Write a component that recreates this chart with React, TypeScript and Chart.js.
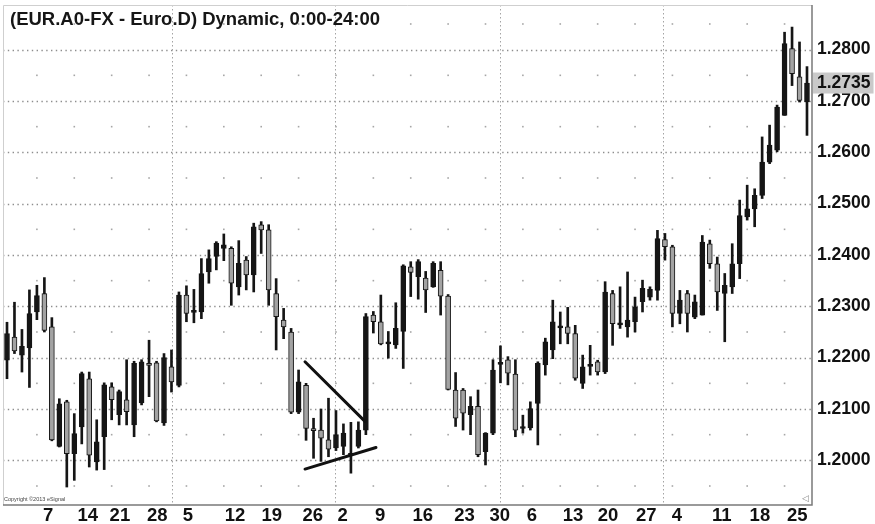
import React, { useEffect, useRef } from 'react';
import { Chart, registerables } from 'chart.js';

Chart.register(...registerables);

const FONT = '"Liberation Sans", Arial, Helvetica, sans-serif';

// Daily OHLC
const opens = [
  1.2195, 1.2240, 1.2205, 1.2219, 1.2289, 1.2325, 1.2260, 1.2027, 1.2114, 1.2013,
  1.2065, 1.2159, 1.1997, 1.2046, 1.2143, 1.2089, 1.2118, 1.2069, 1.2112, 1.2187,
  1.2190, 1.2073, 1.2182, 1.2146, 1.2322, 1.2288, 1.2289, 1.2367, 1.2397, 1.2413,
  1.2413, 1.2338, 1.2390, 1.2361, 1.2459, 1.2449, 1.2325, 1.2273, 1.2250, 1.2094,
  1.2146, 1.2061, 1.2059, 1.2040, 1.2024, 1.2027, 1.2013, 1.2027, 1.2059, 1.2283,
  1.2270, 1.2227, 1.2225, 1.2251, 1.2377, 1.2358, 1.2355, 1.2338, 1.2370, 1.2320,
  1.2137, 1.2137, 1.2089, 1.2105, 1.2017, 1.2053, 1.2187, 1.2196, 1.2168, 1.2062,
  1.2063, 1.2111, 1.2186, 1.2215, 1.2258, 1.2260, 1.2247, 1.2150, 1.2183, 1.2192,
  1.2172, 1.2325, 1.2264, 1.2260, 1.2270, 1.2309, 1.2318, 1.2331, 1.2430, 1.2416,
  1.2286, 1.2325, 1.2279, 1.2283, 1.2422, 1.2383, 1.2325, 1.2338, 1.2383, 1.2474,
  1.2490, 1.2516, 1.2581, 1.2604, 1.2672, 1.2802, 1.2747, 1.2698,
];
const highs = [
  1.2269, 1.2308, 1.2255, 1.2332, 1.2341, 1.2356, 1.2278, 1.2120, 1.2117, 1.2091,
  1.2172, 1.2172, 1.2079, 1.2151, 1.2151, 1.2137, 1.2196, 1.2193, 1.2196, 1.2234,
  1.2193, 1.2208, 1.2215, 1.2328, 1.2340, 1.2333, 1.2393, 1.2410, 1.2426, 1.2441,
  1.2416, 1.2428, 1.2397, 1.2462, 1.2465, 1.2459, 1.2354, 1.2296, 1.2257, 1.2176,
  1.2150, 1.2082, 1.2100, 1.2121, 1.2097, 1.2071, 1.2074, 1.2075, 1.2286, 1.2290,
  1.2322, 1.2251, 1.2307, 1.2381, 1.2387, 1.2391, 1.2368, 1.2387, 1.2387, 1.2323,
  1.2171, 1.2140, 1.2124, 1.2137, 1.2054, 1.2196, 1.2223, 1.2202, 1.2196, 1.2088,
  1.2114, 1.2192, 1.2238, 1.2312, 1.2289, 1.2298, 1.2263, 1.2205, 1.2224, 1.2195,
  1.2348, 1.2331, 1.2338, 1.2367, 1.2318, 1.2351, 1.2338, 1.2448, 1.2442, 1.2419,
  1.2331, 1.2331, 1.2322, 1.2438, 1.2429, 1.2396, 1.2364, 1.2422, 1.2507, 1.2536,
  1.2529, 1.2630, 1.2653, 1.2692, 1.2834, 1.2844, 1.2815, 1.2767,
];
const lows = [
  1.2159, 1.2208, 1.2172, 1.2142, 1.2274, 1.2250, 1.2038, 1.2026, 1.1948, 1.1961,
  1.2032, 1.1987, 1.1981, 1.1982, 1.2079, 1.2069, 1.2069, 1.2046, 1.2108, 1.2124,
  1.2075, 1.2068, 1.2133, 1.2143, 1.2270, 1.2268, 1.2276, 1.2345, 1.2371, 1.2389,
  1.2302, 1.2322, 1.2332, 1.2328, 1.2403, 1.2302, 1.2215, 1.2237, 1.2091, 1.2091,
  1.2039, 1.2004, 1.1998, 1.2007, 1.2019, 1.2011, 1.1975, 1.2024, 1.2050, 1.2248,
  1.2225, 1.2199, 1.2218, 1.2179, 1.2319, 1.2314, 1.2288, 1.2337, 1.2283, 1.2137,
  1.2066, 1.2059, 1.2050, 1.2007, 1.1991, 1.2050, 1.2151, 1.2147, 1.2046, 1.2053,
  1.2059, 1.2030, 1.2166, 1.2198, 1.2227, 1.2227, 1.2156, 1.2140, 1.2166, 1.2166,
  1.2169, 1.2224, 1.2257, 1.2240, 1.2250, 1.2289, 1.2312, 1.2312, 1.2390, 1.2260,
  1.2266, 1.2250, 1.2276, 1.2283, 1.2374, 1.2292, 1.2231, 1.2325, 1.2354, 1.2468,
  1.2455, 1.2510, 1.2578, 1.2601, 1.2672, 1.2730, 1.2698, 1.2633,
];
const closes = [
  1.2247, 1.2213, 1.2222, 1.2286, 1.2321, 1.2253, 1.2040, 1.2110, 1.2013, 1.2052,
  1.2169, 1.2010, 1.2036, 1.2147, 1.2118, 1.2134, 1.2095, 1.2189, 1.2192, 1.2185,
  1.2077, 1.2200, 1.2153, 1.2322, 1.2286, 1.2292, 1.2364, 1.2393, 1.2423, 1.2420,
  1.2345, 1.2384, 1.2361, 1.2455, 1.2449, 1.2332, 1.2280, 1.2260, 1.2094, 1.2153,
  1.2062, 1.2058, 1.2043, 1.2022, 1.2050, 1.2053, 1.2010, 1.2059, 1.2280, 1.2270,
  1.2227, 1.2229, 1.2257, 1.2379, 1.2366, 1.2387, 1.2332, 1.2384, 1.2320, 1.2138,
  1.2082, 1.2092, 1.2105, 1.2011, 1.2053, 1.2176, 1.2189, 1.2170, 1.2059, 1.2064,
  1.2101, 1.2189, 1.2231, 1.2270, 1.2261, 1.2247, 1.2160, 1.2182, 1.2186, 1.2172,
  1.2328, 1.2266, 1.2265, 1.2273, 1.2299, 1.2335, 1.2333, 1.2432, 1.2416, 1.2286,
  1.2312, 1.2286, 1.2309, 1.2425, 1.2383, 1.2328, 1.2341, 1.2383, 1.2477, 1.2490,
  1.2516, 1.2581, 1.2614, 1.2688, 1.2812, 1.2753, 1.2701, 1.2735,
];

// Axis content
const priceLevels = [1.20, 1.21, 1.22, 1.23, 1.24, 1.25, 1.26, 1.27, 1.28];
const lastPrice = 1.2735;
const dateLabels = ['7', '14', '21', '28', '5', '12', '19', '26', '2', '9', '16', '23', '30', '6', '13', '20', '27', '4', '11', '18', '25'];
const dateTickAt = [5.5, 10.8, 15.1, 20.1, 24.2, 30.5, 35.4, 40.9, 44.9, 49.9, 55.6, 61.2, 65.9, 70.2, 75.7, 80.4, 85.5, 89.6, 95.6, 100.7, 105.7];
const monthLineAt = [22.1, 43.9, 65.9, 87.8];
const weekDotAt = [4, 9, 14, 19, 24, 29, 34, 39, 44, 49, 54, 59, 64, 69, 74, 79, 84, 89, 94, 99, 104];

// Hand-drawn trend lines (candle index, price)
const upperTrendX = [39.86, 47.88];
const upperTrendY = [1.2192, 1.2076];
const lowerTrendX = [39.86, 49.35];
const lowerTrendY = [1.1983, 1.2025];

const titleText = '(EUR.A0-FX - Euro.D) Dynamic, 0:00-24:00';
const copyrightText = 'Copyright ©2013 eSignal';

export default function App() {
  const ref = useRef<HTMLCanvasElement | null>(null);

  useEffect(() => {
    const canvas = ref.current;
    if (!canvas) return;
    const idx = opens.map((_, i) => i);
    const isUp = idx.map((i) => closes[i] >= opens[i]);

    const chromePlugin = {
      id: 'chromePlugin',
      beforeDatasetsDraw(chart: any) {
        const { ctx, chartArea: a, scales } = chart;
        const xs = scales.x;
        const ys = scales.y;
        ctx.save();
        ctx.beginPath();
        ctx.rect(a.left, a.top, a.right - a.left, a.bottom - a.top);
        ctx.clip();
        // full-level dotted rows
        ctx.strokeStyle = '#8e8e8e';
        ctx.lineWidth = 1.3;
        ctx.setLineDash([1.4, 3.4]);
        priceLevels.forEach((v) => {
          const y = Math.round(ys.getPixelForValue(v)) + 0.5;
          ctx.beginPath();
          ctx.moveTo(a.left, y);
          ctx.lineTo(a.right, y);
          ctx.stroke();
        });
        // month separators
        ctx.strokeStyle = '#a4a4a4';
        ctx.lineWidth = 1;
        ctx.setLineDash([1.5, 2.5]);
        monthLineAt.forEach((v) => {
          const x = Math.round(xs.getPixelForValue(v)) + 0.5;
          ctx.beginPath();
          ctx.moveTo(x, a.top);
          ctx.lineTo(x, a.bottom);
          ctx.stroke();
        });
        ctx.setLineDash([]);
        // sparse dots on half levels
        ctx.fillStyle = '#a6a6a6';
        const halfLevels = [priceLevels[0] - 0.005, ...priceLevels.map((v) => v + 0.005)];
        halfLevels.forEach((v) => {
          const y = ys.getPixelForValue(v);
          weekDotAt.forEach((w) => {
            const x = xs.getPixelForValue(w);
            ctx.fillRect(x - 0.8, y - 0.8, 1.6, 1.6);
          });
        });
        ctx.restore();
      },
      afterDraw(chart: any) {
        const { ctx, chartArea: a } = chart;
        ctx.save();
        // frame
        ctx.strokeStyle = '#cfcfcf';
        ctx.lineWidth = 1;
        ctx.beginPath();
        ctx.moveTo(a.left + 0.5, a.bottom);
        ctx.lineTo(a.left + 0.5, a.top + 0.5);
        ctx.lineTo(a.right, a.top + 0.5);
        ctx.stroke();
        ctx.strokeStyle = '#7a7a7a';
        ctx.lineWidth = 1.5;
        ctx.beginPath();
        ctx.moveTo(a.left, a.bottom);
        ctx.lineTo(a.right, a.bottom);
        ctx.lineTo(a.right, a.top);
        ctx.stroke();
        // title
        ctx.fillStyle = '#161616';
        ctx.font = 'bold 18.5px ' + FONT;
        ctx.textBaseline = 'alphabetic';
        ctx.textAlign = 'left';
        ctx.fillText(titleText, a.left + 7, a.top + 20);
        // copyright
        ctx.fillStyle = '#444';
        ctx.font = '5.5px ' + FONT;
        ctx.fillText(copyrightText, a.left + 1, a.bottom - 4);
        // small corner icon
        ctx.fillStyle = '#888';
        ctx.font = '9px "DejaVu Sans", sans-serif';
        ctx.fillText('◁', a.right - 10, a.bottom - 4);
        ctx.restore();
      },
    };

    const chart = new Chart(canvas, {
      type: 'bar',
      data: {
        datasets: [
          {
            type: 'line',
            data: upperTrendX.map((x, i) => ({ x, y: upperTrendY[i] })),
            borderColor: '#111',
            borderWidth: 3,
            pointRadius: 0,
            borderCapStyle: 'round',
            order: 0,
          } as any,
          {
            type: 'line',
            data: lowerTrendX.map((x, i) => ({ x, y: lowerTrendY[i] })),
            borderColor: '#111',
            borderWidth: 3,
            pointRadius: 0,
            borderCapStyle: 'round',
            order: 0,
          } as any,
          {
            type: 'bar',
            data: idx.map((i) => ({ x: i, y: [opens[i], closes[i]] })),
            backgroundColor: idx.map((i) => (isUp[i] ? '#151515' : '#a3a3a3')),
            borderColor: '#151515',
            borderWidth: 1,
            borderSkipped: false,
            barThickness: 5,
            minBarLength: 2,
            grouped: false,
            order: 1,
          } as any,
          {
            type: 'bar',
            data: idx.map((i) => ({ x: i, y: [lows[i], highs[i]] })),
            backgroundColor: '#151515',
            borderWidth: 0,
            barThickness: 2,
            grouped: false,
            order: 2,
          } as any,
        ],
      },
      options: {
        animation: false,
        responsive: false,
        maintainAspectRatio: false,
        layout: { padding: { left: 3, top: 5, right: 0, bottom: 0 } },
        plugins: {
          legend: { display: false },
          tooltip: { enabled: false },
          title: { display: false },
        },
        scales: {
          x: {
            type: 'linear',
            min: -0.535,
            max: 107.67,
            offset: false,
            grid: { display: false, drawTicks: false, offset: false },
            border: { display: false },
            afterBuildTicks: (scale: any) => {
              scale.ticks = dateTickAt.map((v) => ({ value: v }));
            },
            afterFit: (scale: any) => {
              scale.height = 19;
              scale.paddingLeft = 0;
              scale.paddingRight = 0;
              scale.paddingTop = 0;
              scale.paddingBottom = 0;
            },
            ticks: {
              autoSkip: false,
              maxRotation: 0,
              minRotation: 0,
              padding: 0,
              color: '#111',
              font: { family: FONT, size: 18.5, weight: 'bold' },
              callback: (_v: any, i: number) => dateLabels[i],
            },
          },
          y: {
            type: 'linear',
            position: 'right',
            min: 1.1913,
            max: 1.2887,
            grid: { display: false, drawTicks: false },
            border: { display: false },
            afterBuildTicks: (scale: any) => {
              const vals = [...priceLevels, lastPrice].sort((p, q) => p - q);
              scale.ticks = vals.map((v) => ({ value: v }));
            },
            afterFit: (scale: any) => {
              scale.width = 63;
              scale.paddingLeft = 0;
              scale.paddingRight = 0;
              scale.paddingTop = 0;
              scale.paddingBottom = 0;
            },
            ticks: {
              autoSkip: false,
              padding: 5,
              color: '#111',
              font: { family: FONT, size: 17.5, weight: 'bold' },
              callback: (v: any) => Number(v).toFixed(4),
              showLabelBackdrop: (ctx: any) => ctx.tick && ctx.tick.value === lastPrice,
              backdropColor: '#c9c9c9',
              backdropPadding: { left: 4, right: 3, top: 0, bottom: 0 },
            } as any,
          },
        },
      } as any,
      plugins: [chromePlugin],
    });

    return () => chart.destroy();
  }, []);

  return (
    <div style={{ position: 'fixed', left: 0, top: 0, width: 875, height: 524, background: '#fff' }}>
      <canvas ref={ref} width={875} height={524} style={{ display: 'block' }} />
    </div>
  );
}
